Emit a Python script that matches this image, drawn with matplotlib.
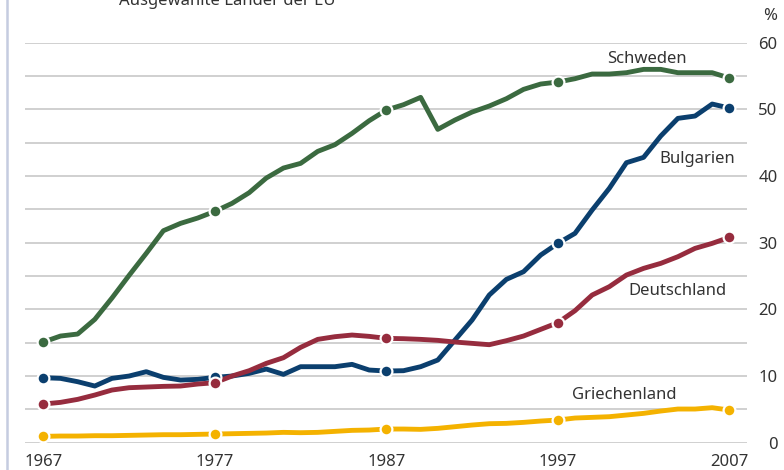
import matplotlib
matplotlib.use("Agg")
import matplotlib.pyplot as plt
from matplotlib.lines import Line2D

# Anteil in %, ausgewählte Länder der EU
years = list(range(1967, 2008))

schweden = [15.1, 16.0, 16.3, 18.5, 21.7, 25.1, 28.4, 31.8, 32.9, 33.7,
            34.7, 35.9, 37.5, 39.7, 41.2, 41.9, 43.7, 44.7, 46.4, 48.3,
            49.9, 50.7, 51.8, 47.0, 48.4, 49.6, 50.5, 51.6, 53.0, 53.8,
            54.1, 54.6, 55.3, 55.3, 55.5, 56.0, 56.0, 55.5, 55.5, 55.5,
            54.7]
bulgarien = [9.75, 9.65, 9.15, 8.5, 9.65, 10.0, 10.65, 9.8, 9.4, 9.5,
             9.8, 10.0, 10.4, 11.05, 10.25, 11.4, 11.4, 11.4, 11.75, 10.9,
             10.75, 10.8, 11.4, 12.4, 15.4, 18.4, 22.15, 24.5, 25.65, 28.15,
             29.9, 31.4, 34.9, 38.15, 42.0, 42.8, 46.0, 48.65, 49.0, 50.8,
             50.2]
deutschland = [5.8, 6.05, 6.5, 7.15, 7.9, 8.25, 8.35, 8.45, 8.5, 8.8,
               9.0, 10.0, 10.8, 11.9, 12.75, 14.3, 15.5, 15.9, 16.15, 15.95,
               15.65, 15.6, 15.5, 15.35, 15.1, 14.9, 14.7, 15.3, 16.0, 17.0,
               18.0, 19.8, 22.15, 23.4, 25.15, 26.15, 26.9, 27.9, 29.15, 29.9,
               30.8]
griechenland = [0.95, 1.0, 1.0, 1.05, 1.05, 1.1, 1.15, 1.2, 1.2, 1.25,
                1.3, 1.35, 1.4, 1.45, 1.55, 1.5, 1.55, 1.7, 1.85, 1.9,
                2.05, 2.05, 2.0, 2.15, 2.4, 2.65, 2.85, 2.9, 3.05, 3.25,
                3.4, 3.7, 3.8, 3.9, 4.15, 4.4, 4.75, 5.05, 5.05, 5.25,
                4.9]

marker_years = [1967, 1977, 1987, 1997, 2007]
xticks = [1967, 1977, 1987, 1997, 2007]
yticks = [0, 10, 20, 30, 40, 50, 60]

series = [
    ("Schweden", schweden, "#3b6a40"),
    ("Bulgarien", bulgarien, "#0b3f6e"),
    ("Deutschland", deutschland, "#962c3e"),
    ("Griechenland", griechenland, "#f4b200"),
]
# label positions (year, value) for the country names
label_pos = {
    "Schweden": (2002.2, 57.6),
    "Bulgarien": (2005.1, 42.5),
    "Deutschland": (2004.0, 22.7),
    "Griechenland": (2000.9, 7.1),
}

plt.rcParams["font.family"] = ["Noto Sans", "DejaVu Sans"]
text_col = "#333333"

fig = plt.figure(figsize=(7.84, 4.70), dpi=100)
W, H = 784, 470
ax = fig.add_axes([25 / W, 1 - 442.7 / H, (747 - 25) / W, 400 / H])
ax.set_xlim(1965.93, 2008.03)
ax.set_ylim(0, 60)

for name, vals, col in series:
    ax.plot(years, vals, color=col, lw=3.5, solid_capstyle="round",
            solid_joinstyle="round", clip_on=False, zorder=3)
    mv = [vals[years.index(y)] for y in marker_years]
    ax.plot(marker_years, mv, ls="none", marker="o", ms=8.5, mfc=col,
            mec="white", mew=1.6, clip_on=False, zorder=4)
    lx, ly = label_pos[name]
    ax.text(lx, ly, name, ha="center", va="center", fontsize=12,
            color=text_col, zorder=5)

# grid every 5 %
ax.set_yticks(yticks)
ax.set_yticks(range(5, 60, 10), minor=True)
ax.grid(axis="y", which="both", color="#c8c8c8", lw=1.2, zorder=0)
ax.yaxis.tick_right()
ax.tick_params(axis="y", which="both", length=0, pad=22, labelsize=12,
               labelcolor=text_col)
for lab in ax.get_yticklabels():
    lab.set_horizontalalignment("right")

ax.set_xticks(xticks)
ax.tick_params(axis="x", length=0, pad=8, labelsize=12, labelcolor=text_col)

for s in ax.spines.values():
    s.set_visible(False)

fig.text(777 / W, 1 - 16 / H, "%", ha="right", va="center", fontsize=12,
         color=text_col)
# title is cut at the top edge, as in the original
fig.text(227 / W, 1 - 5 / H, "Ausgewählte Länder der EU", ha="center",
         va="baseline", fontsize=12, color=text_col)

fig.add_artist(Line2D([7 / W, 7 / W], [0, 1], transform=fig.transFigure,
                      color="#c5cce0", lw=1.8))

fig.savefig("out.png", dpi=100)
